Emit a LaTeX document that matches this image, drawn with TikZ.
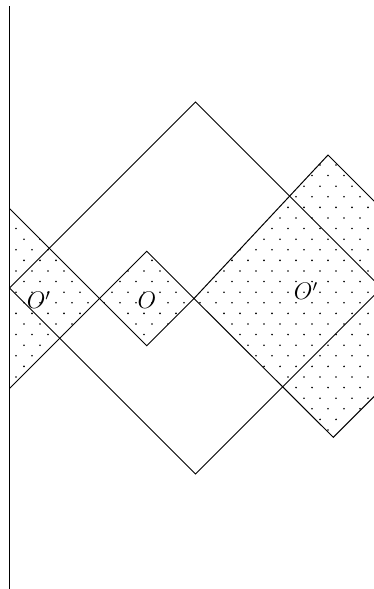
\documentclass[tikz,border=0pt]{standalone}
\usepackage{amsmath}
\usepackage{tikz}
\usetikzlibrary{patterns.meta}
\pgfdeclarepattern{
  name=cdots,
  type=uncolored,
  bottom left={\pgfpoint{-1pt}{-1pt}},
  top right={\pgfpoint{7pt}{9.6pt}},
  tile size={\pgfpoint{8pt}{10.6pt}},
  code={
    \pgfpathcircle{\pgfpoint{0pt}{0pt}}{0.45pt}
    \pgfpathcircle{\pgfpoint{4pt}{5.3pt}}{0.45pt}
    \pgfusepath{fill}
  }
}
\tikzset{
  cedge/.style={black, line width=0.5pt, line join=miter},
  cwall/.style={black, line width=0.6pt},
  cdot/.style={pattern=cdots, pattern color=black},
  clbl/.style={font=\large, inner sep=1pt},
}

\begin{document}
\begin{tikzpicture}[x=0.5pt,y=-0.5pt]

  \useasboundingbox (0,0) rectangle (374,589);
  \clip (0,0) rectangle (374,589);

  % eckpunkte
  \coordinate (wt) at (9.5,6);
  \coordinate (wb) at (9.5,589);
  \coordinate (bt) at (195.5,102);
  \coordinate (bl) at (9.5,288);
  \coordinate (br) at (381.5,288);
  \coordinate (bb) at (195.5,474);
  \coordinate (lt) at (9.5,208.5);
  \coordinate (lr) at (99.5,298.5);
  \coordinate (lb) at (9.5,388.5);
  \coordinate (st) at (146.75,251.25);
  \coordinate (sr) at (194,298.5);
  \coordinate (sb) at (146.75,345.75);
  \coordinate (rt) at (328,155);
  \coordinate (rr) at (471.8,298.8);
  \coordinate (rb) at (333.3,437.3);

  % punktierte gebiete
  \fill[cdot] (lt) -- (lr) -- (lb) -- cycle;
  \fill[cdot] (lr) -- (st) -- (sr) -- (sb) -- cycle;
  \fill[cdot] (sr) -- (rt) -- (rr) -- (rb) -- cycle;

  \draw[cedge] (bl) -- (bt) -- (br) -- (bb) -- cycle;
  \draw[cedge] (lt) -- (lr) -- (lb);
  \draw[cedge] (lr) -- (st) -- (sr) -- (sb) -- cycle;
  \draw[cedge] (sr) -- (rt) -- (rr) -- (rb) -- cycle;
  \draw[cwall] (wt) -- (wb);

  \node[clbl] (ol) at (39,300)  {$O'$};
  \node[clbl] (om) at (147,300) {$O$};
  \node[clbl] (or) at (306,291) {$O'$};

\end{tikzpicture}
\end{document}
